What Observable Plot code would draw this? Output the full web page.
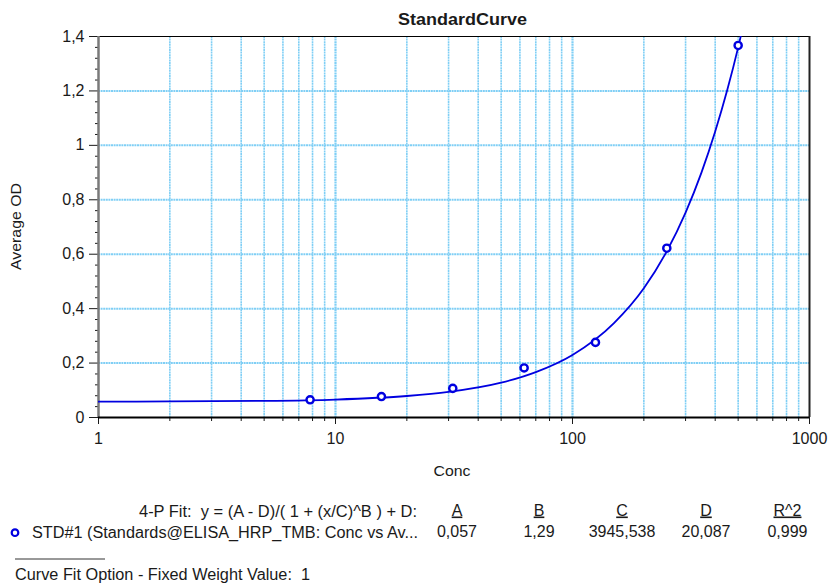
<!DOCTYPE html>
<html><head><meta charset="utf-8">
<script src="https://cdn.jsdelivr.net/npm/d3@7"></script>
<script src="https://cdn.jsdelivr.net/npm/@observablehq/plot@0.6"></script>
<style>html,body{margin:0;padding:0;background:#fff;} #chart{width:829px;height:588px;overflow:hidden;}</style>
</head><body><div id="chart"></div>
<script>
// ---- data ----
const chartTitle = "StandardCurve";
const xLabel = "Conc";
const yLabel = "Average OD";
const stdConc = [7.8125, 15.625, 31.25, 62.5, 125, 250, 500];
const stdOD   = [0.065, 0.077, 0.107, 0.182, 0.276, 0.622, 1.367];
// fitted curve
const fitConc = [1, 2, 5, 10, 20, 30, 50, 70, 100, 150, 200, 250, 300, 350, 400, 450, 500, 520];
const fitOD   = [0.058, 0.059, 0.061, 0.066, 0.079, 0.094, 0.128, 0.167, 0.230, 0.348, 0.475, 0.611, 0.753, 0.900, 1.051, 1.204, 1.360, 1.424];
const xMajorTicks = [1, 10, 100, 1000];
const xMinorTicks = [2, 3, 4, 5, 6, 7, 8, 9, 20, 30, 40, 50, 60, 70, 80, 90, 200, 300, 400, 500, 600, 700, 800, 900];
const yMajorTicks = [0, 0.2, 0.4, 0.6, 0.8, 1, 1.2, 1.4];
const yMinorTicks = [0.04, 0.08, 0.12, 0.16, 0.24, 0.28, 0.32, 0.36, 0.44, 0.48, 0.52, 0.56, 0.64, 0.68, 0.72, 0.76,
                     0.84, 0.88, 0.92, 0.96, 1.04, 1.08, 1.12, 1.16, 1.24, 1.28, 1.32, 1.36];
const fitEquation = "4-P Fit:  y = (A - D)/( 1 + (x/C)^B ) + D:";
const seriesName = "STD#1 (Standards@ELISA_HRP_TMB: Conc vs Av...";
const paramNames = ["A", "B", "C", "D", "R^2"];
const paramValues = ["0,057", "1,29", "3945,538", "20,087", "0,999"];
const footnote = "Curve Fit Option - Fixed Weight Value:  1";

// ---- chart ----
const FONT = "'Liberation Sans', Arial, sans-serif";
const BLUE = "#0000e0";
const GRID = "#80cff5";
const points = stdConc.map((x, i) => ({x, y: stdOD[i]}));
const fit = fitConc.map((x, i) => ({x, y: fitOD[i]}));
const fmtY = d => String(d).replace(".", ",");

const svg = Plot.plot({
  width: 829, height: 588,
  marginLeft: 98, marginRight: 20, marginTop: 36, marginBottom: 171,
  style: {fontFamily: FONT, fontSize: "16px", color: "#1a1a1a", background: "#fff", overflow: "visible"},
  x: {type: "log", domain: [1, 1000]},
  y: {domain: [0, 1.4]},
  marks: [
    Plot.ruleX(xMinorTicks, {stroke: GRID, strokeWidth: 1.6, strokeDasharray: "2,0.6"}),
    Plot.ruleX([10, 100], {stroke: GRID, strokeWidth: 2.2, strokeDasharray: "2,0.6"}),
    Plot.ruleY(yMajorTicks.filter(d => d > 0 && d < 1.4), {stroke: GRID, strokeWidth: 2, strokeDasharray: "2,0.6"}),
    Plot.axisX({ticks: xMinorTicks, tickSize: 4, tickFormat: () => "", label: null}),
    Plot.axisX({ticks: xMajorTicks, tickSize: 7, tickPadding: 8, tickFormat: d => String(d), label: null, fontSize: 16}),
    Plot.axisY({ticks: yMinorTicks, tickSize: 3, tickFormat: () => "", label: null}),
    Plot.axisY({ticks: yMajorTicks, tickSize: 9, tickPadding: 5, tickFormat: fmtY, label: null, fontSize: 16}),
    Plot.ruleY([1.4], {stroke: "black", strokeWidth: 1}),
    Plot.ruleX([1000], {stroke: "#222", strokeWidth: 2}),
    Plot.ruleX([1], {stroke: "#7a7a7a", strokeWidth: 2.5}),
    Plot.ruleY([0], {stroke: "black", strokeWidth: 2}),
    Plot.line(fit, {x: "x", y: "y", stroke: BLUE, strokeWidth: 1.8, curve: "monotone-x", clip: true}),
    Plot.dot(points, {x: "x", y: "y", r: 3.6, stroke: BLUE, strokeWidth: 2.4, fill: "white"})
  ]
});

// ---- titles and fit table ----
const s = d3.select(svg);
const g = s.append("g").attr("font-family", FONT).attr("fill", "#1a1a1a").attr("font-size", 15).attr("text-anchor", "start");
function txt(str, x, y, opt = {}) {
  const t = g.append("text").attr("x", x).attr("y", y).attr("text-anchor", opt.anchor || "start").text(str);
  if (opt.len) t.attr("textLength", opt.len).attr("lengthAdjust", "spacingAndGlyphs");
  if (opt.size) t.attr("font-size", opt.size);
  if (opt.weight) t.attr("font-weight", opt.weight);
  if (opt.transform) t.attr("transform", opt.transform).attr("x", 0).attr("y", 0);
  if (opt.underline) t.style("text-decoration", "underline");
  return t;
}
txt(chartTitle, 462.5, 24.7, {anchor: "middle", len: 129, size: 16, weight: "bold"});
txt(yLabel, 0, 0, {anchor: "middle", len: 87, transform: "translate(21,226.5) rotate(-90)"});
txt(xLabel, 452, 476, {anchor: "middle", len: 37});
txt(fitEquation, 139, 516.5, {len: 278, size: 16});
const colCx = [457, 539, 622, 706, 787.5];
paramNames.forEach((p, i) => txt(p, colCx[i], 515.5, {anchor: "middle", underline: true, size: 16}));
paramValues.forEach((v, i) => txt(v, colCx[i], 537.2, {anchor: "middle", size: 16}));
g.append("circle").attr("cx", 15).attr("cy", 532.7).attr("r", 3.3).attr("fill", "white").attr("stroke", BLUE).attr("stroke-width", 2.2);
txt(seriesName, 32, 537.5, {len: 386, size: 16});
g.append("line").attr("x1", 15).attr("x2", 105).attr("y1", 559).attr("y2", 559).attr("stroke", "#333").attr("stroke-width", 1);
txt(footnote, 15, 580, {len: 295, size: 16});

document.getElementById("chart").appendChild(svg);
</script>
</body></html>
